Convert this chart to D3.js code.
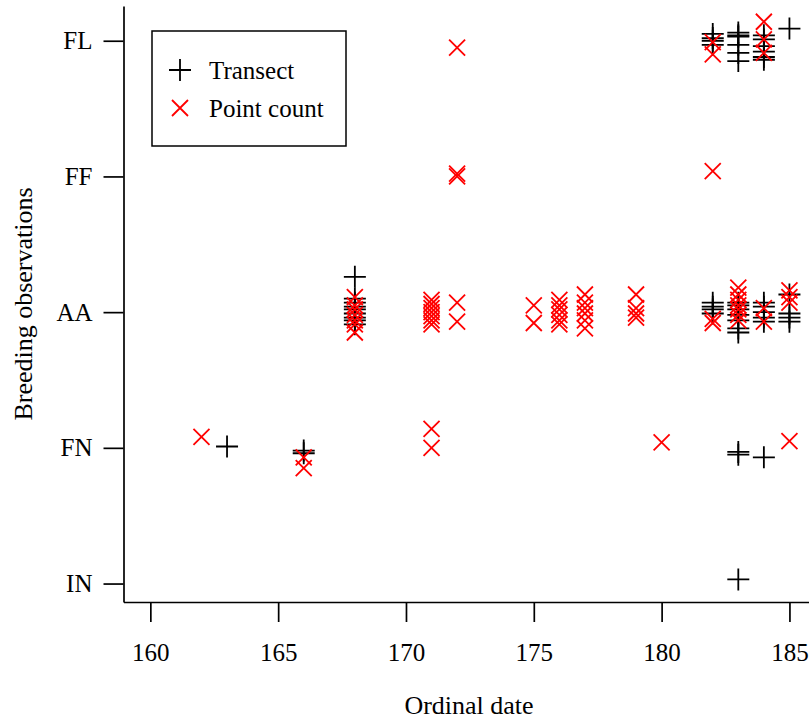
<!DOCTYPE html>
<html>
<head>
<meta charset="utf-8">
<script src="https://cdn.jsdelivr.net/npm/d3@7/dist/d3.min.js"></script>
<style>
  body { margin: 0; background: #fff; }
  svg text { font-family: "Liberation Serif", "Times New Roman", serif; }
</style>
</head>
<body>
<div class="holder"></div>
<script>
// breeding observation codes, bottom to top
var obsLevels = ['IN', 'FN', 'AA', 'FF', 'FL']
var xTicks = [160, 165, 170, 175, 180, 185]

// transect records (jittered observation level)
var transectDate = [163, 166, 166,
  168, 168, 168, 168, 168, 168, 168, 168, 168,
  182, 182, 182, 182, 183, 183, 183, 183, 183, 183,
  184, 184, 184, 184, 184, 184, 185,
  182, 182, 182, 182, 183, 183, 183, 183, 183, 183, 183,
  184, 184, 184, 184, 184, 185, 185, 185, 185,
  183, 183, 184, 183]
var transectObs = [2.01, 1.98, 1.96,
  3.26, 3.10, 3.07, 3.04, 3.02, 2.99, 2.96, 2.94, 2.91,
  5.05, 5.02, 5.00, 4.97, 5.06, 5.04, 5.03, 4.97, 4.91, 4.85,
  5.04, 5.01, 4.96, 4.92, 4.88, 4.86, 5.09,
  3.07, 3.04, 3.02, 2.99, 3.07, 3.05, 3.02, 2.98, 2.94, 2.88, 2.85,
  3.07, 3.04, 3.00, 2.96, 2.93, 3.13, 2.99, 2.96, 2.93,
  1.97, 1.95, 1.93, 1.03]

// point count records
var pointDate = [162, 166, 166,
  168, 168, 168, 168, 168, 168, 168,
  171, 171,
  171, 171, 171, 171, 171, 171, 171,
  172, 172, 172, 172, 172,
  175, 175,
  176, 176, 176, 176, 176, 176,
  177, 177, 177, 177, 177, 177,
  179, 179, 179, 179,
  180, 182, 182, 182, 182, 182,
  183, 183, 183, 183, 183, 183, 183,
  184, 184, 184, 184, 184,
  185, 185, 185, 185]
var pointObs = [2.08, 1.93, 1.85,
  3.11, 3.05, 3.02, 2.98, 2.94, 2.91, 2.85,
  2.14, 2.00,
  3.09, 3.06, 3.03, 3.00, 2.97, 2.94, 2.91,
  4.95, 4.02, 4.00, 3.07, 2.93,
  3.05, 2.92,
  3.09, 3.05, 3.02, 2.98, 2.94, 2.91,
  3.13, 3.07, 3.03, 2.99, 2.94, 2.88,
  3.13, 3.03, 2.99, 2.96,
  2.04, 4.04, 4.99, 4.90, 2.95, 2.92,
  3.18, 3.13, 3.09, 3.05, 3.02, 2.98, 2.94,
  5.14, 5.01, 4.91, 3.03, 2.93,
  3.16, 3.11, 3.07, 2.05]

var W = 809, H = 721

var svg = d3.select('.holder')
  .append('svg')
  .attr('width', W)
  .attr('height', H)

var xScale = d3.scaleLinear()
  .domain([158.95, 186])
  .range([123.5, 815])

var yScale = d3.scaleLinear()
  .domain([0.864, 5.256])
  .range([602, 6])

var xAxis = d3.axisBottom(xScale)
  .tickValues(xTicks)
  .tickSize(20)
  .tickSizeOuter(0)
  .tickPadding(21)

var yAxis = d3.axisLeft(yScale)
  .tickValues([1, 2, 3, 4, 5])
  .tickFormat(function(d) { return obsLevels[d - 1] })
  .tickSize(20)
  .tickSizeOuter(0)
  .tickPadding(11)

var xg = svg.append('g')
  .attr('transform', 'translate(0,602)')
  .call(xAxis)

var yg = svg.append('g')
  .attr('transform', 'translate(123.5,0)')
  .call(yAxis)

svg.selectAll('.domain, .tick line')
  .attr('stroke', '#000')
  .attr('stroke-width', 1.7)

svg.selectAll('.tick text')
  .attr('fill', '#000')
  .style('font-size', '25px')

// axis titles
svg.append('text')
  .attr('x', 469)
  .attr('y', 714)
  .attr('text-anchor', 'middle')
  .style('font-size', '26px')
  .text('Ordinal date')

svg.append('text')
  .attr('transform', 'translate(32,304) rotate(-90)')
  .attr('text-anchor', 'middle')
  .style('font-size', '26px')
  .text('Breeding observations')

var plusPath = 'M-11,0H11M0,-11V11'
var crossPath = 'M-8,-8L8,8M-8,8L8,-8'

svg.append('g').selectAll('path')
  .data(transectDate)
  .enter()
  .append('path')
  .attr('d', plusPath)
  .attr('transform', function(d, i) {
    return 'translate(' + xScale(d) + ',' + yScale(transectObs[i]) + ')'
  })
  .attr('stroke', '#000')
  .attr('stroke-width', 1.8)
  .attr('fill', 'none')

svg.append('g').selectAll('path')
  .data(pointDate)
  .enter()
  .append('path')
  .attr('d', crossPath)
  .attr('transform', function(d, i) {
    return 'translate(' + xScale(d) + ',' + yScale(pointObs[i]) + ')'
  })
  .attr('stroke', '#ff0000')
  .attr('stroke-width', 1.8)
  .attr('fill', 'none')

// legend
var legend = svg.append('g')
legend.append('rect')
  .attr('x', 152)
  .attr('y', 31)
  .attr('width', 194)
  .attr('height', 115)
  .attr('fill', '#fff')
  .attr('stroke', '#000')
  .attr('stroke-width', 1.5)

legend.append('path')
  .attr('d', plusPath)
  .attr('transform', 'translate(180,70)')
  .attr('stroke', '#000')
  .attr('stroke-width', 1.8)
legend.append('path')
  .attr('d', crossPath)
  .attr('transform', 'translate(180,108)')
  .attr('stroke', '#ff0000')
  .attr('stroke-width', 1.8)

legend.append('text')
  .attr('x', 209)
  .attr('y', 79)
  .style('font-size', '25px')
  .text('Transect')
legend.append('text')
  .attr('x', 209)
  .attr('y', 117)
  .style('font-size', '25px')
  .text('Point count')
</script>
</body>
</html>
